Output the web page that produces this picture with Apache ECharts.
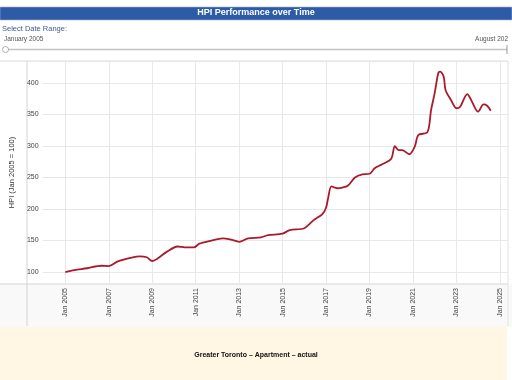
<!DOCTYPE html>
<html>
<head>
<meta charset="utf-8">
<script src="https://cdn.jsdelivr.net/npm/echarts@6/dist/echarts.min.js"></script>
<style>
html,body{margin:0;padding:0;background:#fff;}
#c{width:512px;height:380px;}
</style>
</head>
<body>
<div id="c"></div>
<script>
// ---- data ----
var dates = ["2005-01","2005-06","2006-01","2006-09","2007-01","2007-06","2008-01","2008-06","2008-10","2009-01","2009-04","2009-09","2010-03","2010-07","2010-12","2011-03","2011-09","2012-04","2012-09","2013-01","2013-06","2014-01","2014-05","2015-01","2015-05","2016-01","2016-06","2016-11","2017-01","2017-02","2017-04","2017-07","2017-10","2018-01","2018-05","2018-09","2019-01","2019-04","2019-08","2020-01","2020-03","2020-05","2020-07","2020-11","2021-02","2021-04","2021-09","2021-11","2022-01","2022-03","2022-04","2022-06","2022-07","2022-10","2023-01","2023-03","2023-07","2023-09","2024-01","2024-04","2024-06","2024-08"];
var hpi = [100,103,106,110,109.5,117,122.5,125,123.5,117.5,121.5,132,140.5,139,139,145,149.5,153.5,151,148,153.5,155,158.5,161,166.5,169.5,182,192,202,215,236,233,234,237,250,255,256,265,271,280,300,293.5,293.5,287,299,317.5,322,357,384,416,418,410,389,373,360,362,382.5,374,354.5,366,364,356];
var tickYears = [2005,2007,2009,2011,2013,2015,2017,2019,2021,2023,2025];
var chartTitle = "HPI Performance over Time";
var seriesName = "Greater Toronto \u2013 Apartment \u2013 actual";
var yAxisTitle = "HPI (Jan 2005 = 100)";
var rangeStart = "January 2005";
var rangeEnd = "August 202";

function monthsSince2005(d){var p=d.split("-");return (parseInt(p[0],10)-2005)*12+(parseInt(p[1],10)-1);}
var points = dates.map(function(d,i){return [monthsSince2005(d), hpi[i]];});
var tickMonths = tickYears.map(function(y){return (y-2005)*12;});

var FONT = "Liberation Sans, Arial, sans-serif";
var chart = echarts.init(document.getElementById('c'), null, {renderer:'canvas'});
chart.setOption({
  animation:false,
  backgroundColor:'#ffffff',
  grid:{left:27,right:4,top:61,bottom:96,show:false},
  xAxis:{
    type:'value', min:-12.56, max:244.5,
    axisLine:{show:false},
    axisTick:{show:false, customValues:tickMonths},
    axisLabel:{customValues:tickMonths, rotate:90, fontSize:7, color:'#444', fontFamily:FONT, margin:4,
      formatter:function(v){return 'Jan ' + (2005 + Math.round(v/12));}},
    splitLine:{show:true, lineStyle:{color:'#e8e8e8', width:1}}
  },
  yAxis:{
    type:'value', min:81, max:435, splitNumber:7,
    name:yAxisTitle, nameLocation:'middle', nameGap:17, nameRotate:90,
    nameTextStyle:{fontSize:7.5, color:'#333', fontFamily:FONT},
    axisLine:{show:false}, axisTick:{show:false},
    axisLabel:{fontSize:7, color:'#444', fontFamily:FONT, margin:4, showMinLabel:false, showMaxLabel:false},
    splitLine:{show:true, lineStyle:{color:'#e8e8e8', width:1}}
  },
  series:[{
    type:'line', name:seriesName, data:points, showSymbol:false, smooth:0.3,
    lineStyle:{color:'#ab1a2c', width:1.8}
  }],
  graphic:[
    {type:'rect', shape:{x:0,y:0,width:512,height:60}, style:{fill:'#ffffff'}, z:-10},
    {type:'rect', shape:{x:0,y:284,width:512,height:43}, style:{fill:'#f9f9fa'}, z:-10},
    {type:'rect', shape:{x:0,y:327,width:507,height:53}, style:{fill:'#fff6e3'}, z:-10},
    {type:'rect', shape:{x:0,y:7,width:512,height:13}, style:{fill:'#2e5ba6', stroke:'#9fb4d8', lineWidth:0.6}},
    {type:'text', left:'center', top:8.5, style:{text:chartTitle, fill:'#ffffff', font:'bold 9px '+FONT}},
    {type:'text', left:2, top:25, style:{text:'Select Date Range:', fill:'#3d5d8c', font:'7.5px '+FONT}},
    {type:'text', left:4, top:36, style:{text:rangeStart, fill:'#555', font:'6.5px '+FONT}},
    {type:'text', right:4, top:36, style:{text:rangeEnd, fill:'#555', font:'6.5px '+FONT}},
    {type:'line', shape:{x1:5,y1:49.5,x2:507,y2:49.5}, style:{stroke:'#c4c4c4', lineWidth:1.5}},
    {type:'circle', shape:{cx:5.5,cy:49.5,r:3}, style:{fill:'#fff', stroke:'#999', lineWidth:0.8}},
    {type:'line', shape:{x1:507,y1:45,x2:507,y2:54}, style:{stroke:'#999', lineWidth:1}},
    {type:'line', shape:{x1:0,y1:61,x2:508,y2:61}, style:{stroke:'#dcdcdc', lineWidth:1}},
    {type:'line', shape:{x1:0,y1:284,x2:508,y2:284}, style:{stroke:'#d4d4d4', lineWidth:1}},
    {type:'line', shape:{x1:27,y1:61,x2:27,y2:326}, style:{stroke:'#d4d4d4', lineWidth:1}},
    {type:'line', shape:{x1:508,y1:61,x2:508,y2:326}, style:{stroke:'#e2e2e2', lineWidth:1}},
    {type:'text', left:'center', top:351.5, style:{text:seriesName, fill:'#111', font:'bold 7px '+FONT}}
  ]
});
</script>
</body>
</html>
